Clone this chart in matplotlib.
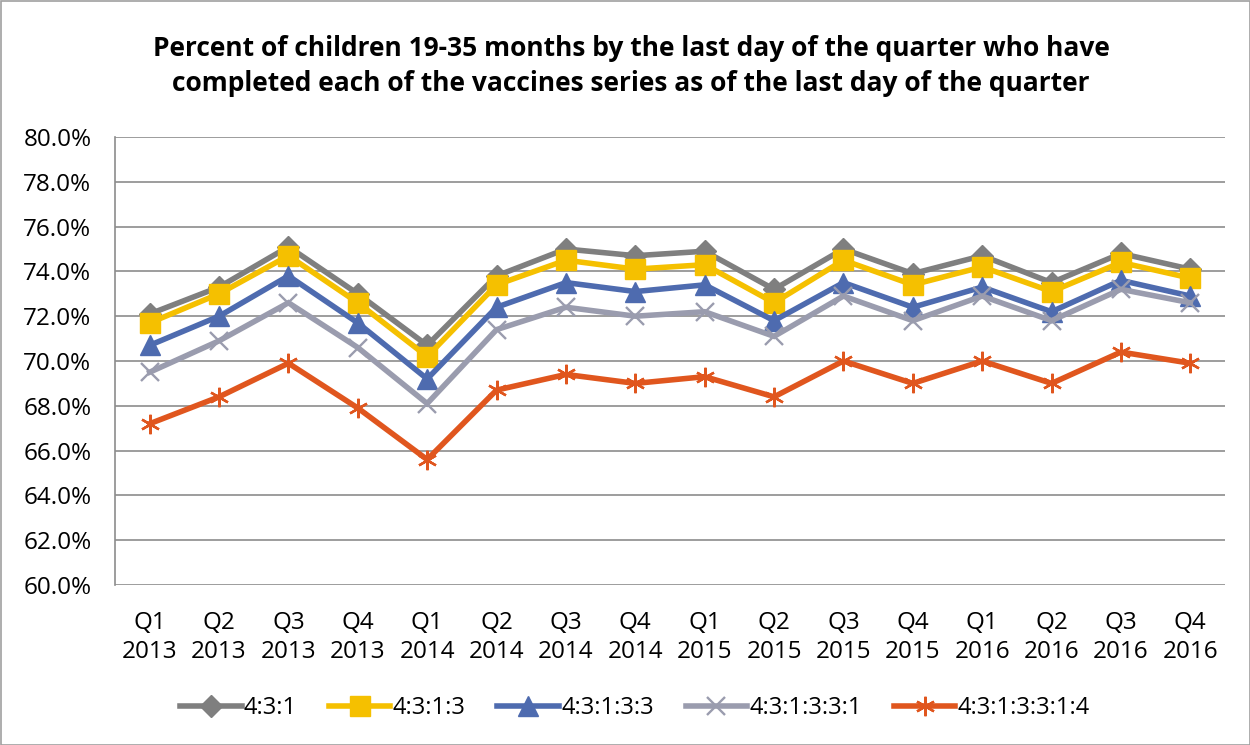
import matplotlib
matplotlib.use("Agg")
import matplotlib.pyplot as plt
from matplotlib.ticker import FuncFormatter
from matplotlib.patches import Rectangle

categories = ["Q1\n2013", "Q2\n2013", "Q3\n2013", "Q4\n2013",
              "Q1\n2014", "Q2\n2014", "Q3\n2014", "Q4\n2014",
              "Q1\n2015", "Q2\n2015", "Q3\n2015", "Q4\n2015",
              "Q1\n2016", "Q2\n2016", "Q3\n2016", "Q4\n2016"]

s_431 = [72.1, 73.3, 75.1, 73.0, 70.7, 73.8, 75.0, 74.7, 74.9, 73.2, 75.0, 73.9, 74.7, 73.5, 74.8, 74.1]
s_4313 = [71.7, 73.0, 74.7, 72.6, 70.2, 73.4, 74.5, 74.1, 74.3, 72.6, 74.5, 73.4, 74.2, 73.1, 74.4, 73.7]
s_43133 = [70.7, 72.0, 73.8, 71.7, 69.2, 72.4, 73.5, 73.1, 73.4, 71.8, 73.5, 72.4, 73.3, 72.2, 73.6, 72.9]
s_431331 = [69.5, 70.9, 72.6, 70.6, 68.1, 71.4, 72.4, 72.0, 72.2, 71.1, 72.9, 71.8, 72.9, 71.8, 73.2, 72.6]
s_4313314 = [67.2, 68.4, 69.9, 67.9, 65.6, 68.7, 69.4, 69.0, 69.3, 68.4, 70.0, 69.0, 70.0, 69.0, 70.4, 69.9]

labels = ["4:3:1", "4:3:1:3", "4:3:1:3:3", "4:3:1:3:3:1", "4:3:1:3:3:1:4"]
y_ticks = [60, 62, 64, 66, 68, 70, 72, 74, 76, 78, 80]

plt.rcParams['font.family'] = ['Open Sans', 'DejaVu Sans']

fig = plt.figure(figsize=(12.5, 7.45), dpi=100)
ax = fig.add_axes([115/1250, 1-585/745, (1225-115)/1250, (585-137)/745])

x = list(range(len(categories)))
styles = [
    (s_431, "#7F7F7F", "D", 11, None),
    (s_4313, "#F5C000", "s", 14, None),
    (s_43133, "#4E6BAF", "^", 14, None),
    (s_431331, "#9A9CAE", "x", 13, 1.7),
    (s_4313314, "#E0561E", (6, 2, 0), 14, 1.7),
]
for (data, color, marker, ms, mew), lab in zip(styles, labels):
    kw = dict(color=color, lw=4.0, marker=marker, markersize=ms, label=lab,
              markerfacecolor=color, markeredgecolor=color, solid_joinstyle='miter')
    if mew is not None:
        kw['markeredgewidth'] = mew
    ax.plot(x, data, **kw)

ax.set_ylim(60, 80)
ax.set_xlim(-0.5, len(categories) - 0.5)
ax.set_yticks(y_ticks)
ax.yaxis.set_major_formatter(FuncFormatter(lambda v, p: f"{v:.1f}%"))
ax.set_xticks(x)
ax.set_xticklabels(categories, fontsize=17.5, linespacing=1.28)
ax.tick_params(axis='y', labelsize=17.5, length=0, pad=17)
ax.tick_params(axis='x', length=0, pad=19)
ax.grid(axis='y', color='#8C8C8C', lw=1.2)
ax.set_axisbelow(True)
for side in ['top', 'right', 'bottom']:
    ax.spines[side].set_visible(False)
ax.spines['left'].set_color('#8C8C8C')
ax.spines['left'].set_linewidth(1.2)

fig.text(0.505, 1-66/745,
         "Percent of children 19-35 months by the last day of the quarter who have\n"
         "completed each of the vaccines series as of the last day of the quarter",
         ha='center', va='center', fontsize=19, fontweight='bold', linespacing=1.35)

leg = fig.legend(loc='center', bbox_to_anchor=(0.508, 1-708/745), ncol=5, frameon=False,
                 fontsize=17, handlelength=2.6, columnspacing=1.35, handletextpad=0.1)

fig.patches.append(Rectangle((0.5/1250, 0.5/745), 1-1/1250, 1-1/745, transform=fig.transFigure,
                             fill=False, edgecolor='#A0A0A0', lw=1.2))

fig.savefig("out.png", dpi=100)
